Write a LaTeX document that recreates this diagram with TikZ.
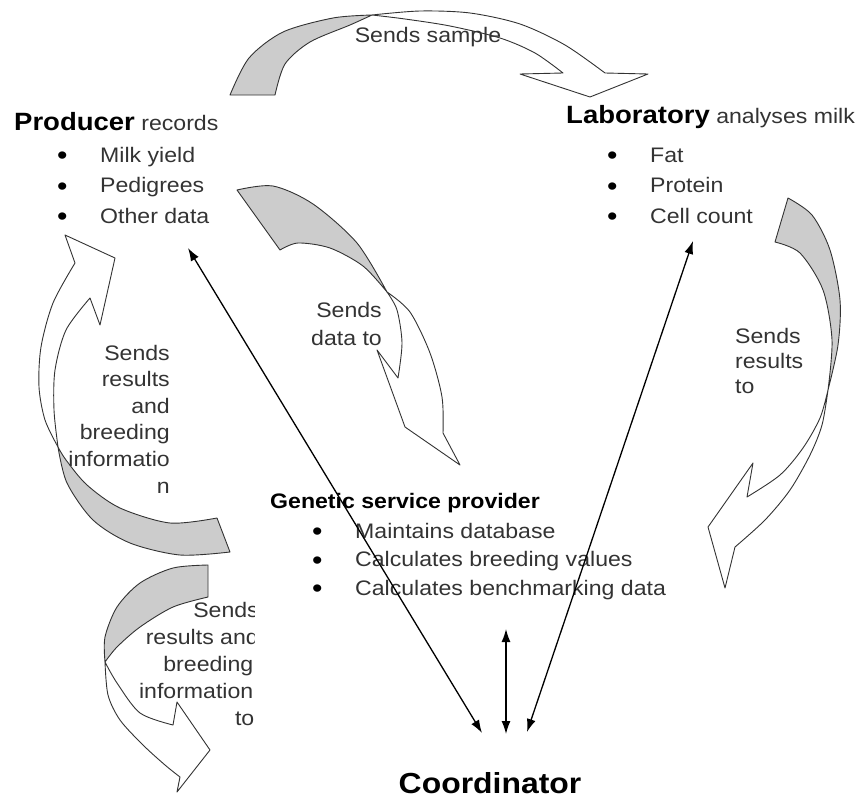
\documentclass[tikz,border=0pt]{standalone}
\usepackage{fontspec}
\setmainfont{Liberation Sans}[FakeStretch=1.1]
\usetikzlibrary{arrows.meta}
\definecolor{txt}{HTML}{333333}
\definecolor{edge}{HTML}{333333}
\definecolor{shade}{HTML}{CCCCCC}
\newcommand{\mybullet}{\makebox[43pt][l]{\raisebox{-2.5pt}{\fontsize{27}{27}\selectfont\color{black}•}}}
\begin{document}
\begin{tikzpicture}[x=1pt,y=-1pt,
  back/.style={fill=shade,draw=edge,line width=0.9pt,line join=round},
  front/.style={fill=white,draw=edge,line width=0.9pt,line join=round},
  lbl/.style={inner sep=0pt,text=txt,font=\fontsize{21}{#1}\selectfont},
  lbl/.default=28,
  title/.style={inner sep=0pt,text=black,font=\fontsize{21}{25}\selectfont},
  conn/.style={line width=1.3pt,draw=black,{Latex[length=13pt,width=9pt]}-{Latex[length=13pt,width=9pt]}}
]
\useasboundingbox (0,0) rectangle (864,798);

% ---- block arrow: Sends sample (top)
\path[back] plot[smooth] coordinates {(230,95) (249,58) (283,32) (333,18) (372,15)}
  -- plot[smooth] coordinates {(372,15) (350,25) (310,42) (285,64) (275,95)} -- cycle;
\path[front] plot[smooth] coordinates {(372,15) (420,11) (470,13) (520,24) (565,45) (605,73)}
  -- (648,74) -- (590,97) -- (520,74) -- (563,73)
  -- plot[smooth] coordinates {(563,73) (535,53) (500,38) (450,26) (405,19) (372,15)} -- cycle;

% ---- block arrow: Sends data to
\path[back] plot[smooth] coordinates {(237,190) (273,186) (313,204) (357,243) (387,292)}
  -- plot[smooth] coordinates {(387,292) (363,266) (330,248) (298,243) (280,250)} -- cycle;
\path[front] plot[smooth] coordinates {(387,292) (410,312) (430,353) (442,397) (443,433)}
  -- (460,465) -- (405,427) -- (377,350) -- (398,378)
  -- plot[smooth] coordinates {(398,378) (402,343) (397,310) (387,292)} -- cycle;

% ---- block arrow: Sends results to (right)
\path[back] plot[smooth] coordinates {(788,198) (812,215) (830,250) (840,300) (838,345) (828,390)}
  -- plot[smooth] coordinates {(828,390) (832,340) (823,290) (800,253) (775,242)} -- cycle;
\path[front] plot[smooth] coordinates {(828,390) (822,425) (810,455) (790,490) (765,520) (735,547)}
  -- (725,588) -- (708,527) -- (753,463) -- (747,497)
  -- plot[smooth] coordinates {(747,497) (780,475) (803,448) (820,418) (828,390)} -- cycle;

% ---- block arrow: Sends results and breeding information (left)
\path[back] plot[smooth] coordinates {(217,518) (170,523) (120,508) (87,485) (66,460) (58,447)}
  -- plot[smooth] coordinates {(58,447) (67,483) (93,520) (130,543) (180,555) (230,552)} -- cycle;
\path[front] plot[smooth] coordinates {(58,447) (45,420) (39,387) (41,347) (53,303) (75,263)}
  -- (65,235) -- (115,258) -- (100,325) -- (90,298)
  -- plot[smooth] coordinates {(90,298) (66,330) (55,370) (54,410) (58,447)} -- cycle;

% ---- block arrow: Sends results and breeding information to (bottom left)
\path[back] plot[smooth] coordinates {(208,565) (173,568) (140,583) (117,607) (105,637) (105,662)}
  -- plot[smooth] coordinates {(105,662) (117,647) (140,627) (173,607) (208,597)} -- cycle;
\path[front] plot[smooth] coordinates {(105,662) (108,695) (120,720) (143,745) (165,765) (180,777)}
  -- (177,792) -- (210,750) -- (177,702) -- (173,725)
  -- plot[smooth] coordinates {(173,725) (140,713) (117,683) (105,662)} -- cycle;

% ---- main text blocks (multi-line nodes are anchored at their last baseline)
\node[title, anchor=base west] (producer) at (14,130)
  {{\bfseries\fontsize{25}{30}\selectfont Producer} {\color{txt}records}};
\node[lbl=30.5, anchor=base west, align=left] (prodlist) at (57,223)
  {\mybullet Milk yield\\\mybullet Pedigrees\\\mybullet Other data};

\node[title, anchor=base west] (lab) at (566,123)
  {{\bfseries\fontsize{25}{30}\selectfont Laboratory} {\color{txt}analyses milk}};
\node[lbl=30.5, anchor=base west, align=left] (lablist) at (607,223)
  {\mybullet Fat\\\mybullet Protein\\\mybullet Cell count};

\node[title, anchor=base west, font=\fontsize{21}{25}\selectfont\bfseries] (gsp) at (270,508)
  {Genetic service provider};
\node[lbl=28.5, anchor=base west, align=left] (gsplist) at (312,595)
  {\mybullet Maintains database\\\mybullet Calculates breeding values\\\mybullet Calculates benchmarking data};

\node[title, anchor=base, font=\fontsize{29}{34}\selectfont\bfseries] (coord) at (490,793) {Coordinator};

% ---- arrow labels
\node[lbl, anchor=base] (lsample) at (428,42) {Sends sample};
\node[lbl=28, anchor=base east, align=right] (ldata) at (382,345) {Sends\\data to};
\node[lbl=25, anchor=base west, align=left] (lresults) at (735,393) {Sends\\results\\to};
\node[lbl=26.6, anchor=base east, align=right] (lback) at (170,493)
  {Sends\\results\\and\\breeding\\informatio\\n};
\begin{scope}
  \clip (40,595) rectangle (254,740);
  \node[lbl=26.8, anchor=base east, align=right] (lback2) at (259,725)
    {Sends\\results and\\breeding\rule{5.5pt}{0pt}\\information\rule{5.5pt}{0pt}\\to\rule{4.5pt}{0pt}};
\end{scope}

% ---- straight connectors
\coordinate (pEnd) at (188,248);
\coordinate (cLeft) at (482,733);
\coordinate (lEnd) at (693,241);
\coordinate (cRight) at (527,732);
\coordinate (gEnd) at (506,629);
\coordinate (cMid) at (506,734);
\draw[conn] (pEnd) -- (cLeft);
\draw[conn] (lEnd) -- (cRight);
\draw[conn] (gEnd) -- (cMid);
\end{tikzpicture}
\end{document}
